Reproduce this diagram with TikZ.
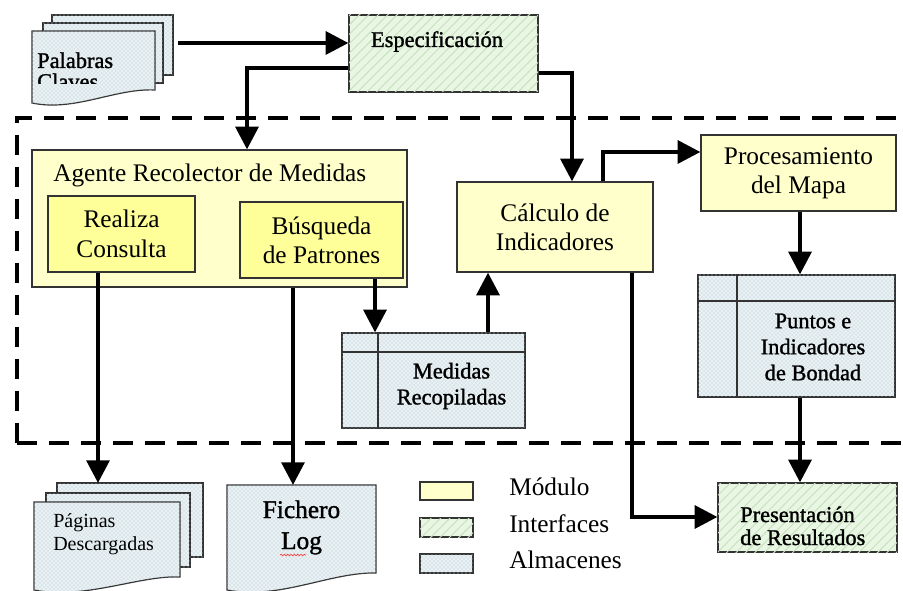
\documentclass[tikz,border=0pt]{standalone}
\usepackage{fontspec}
\setmainfont{Liberation Serif}
\newfontfamily\sbfont[FakeBold=1.3]{Liberation Serif}
\usetikzlibrary{arrows.meta,patterns,patterns.meta,decorations.pathmorphing,calc}
\definecolor{modpale}{HTML}{FFFFCC}
\definecolor{modstrong}{HTML}{FFFF99}
\definecolor{intfill}{HTML}{E9F6E3}
\definecolor{inthatch}{HTML}{C4E2BC}
\definecolor{storfill}{HTML}{E9F1F4}
\definecolor{stordots}{HTML}{B0C2CC}
\definecolor{edge}{HTML}{333333}
\tikzset{
 bx/.style 2 args={minimum width=#1*0.75pt,minimum height=#2*0.75pt,inner sep=0pt},
 box/.style={draw=edge,line width=0.9pt},
 modA/.style={box,fill=modpale},
 modB/.style={box,fill=modstrong},
 intf/.style={box,fill=intfill,postaction={pattern={Lines[angle=45,distance=5pt,line width=0.7pt]},pattern color=inthatch}},
 stor/.style={box,fill=storfill,postaction={pattern=crosshatch dots,pattern color=stordots}},
 big/.style={font=\fontsize{19}{22}\selectfont,align=center,inner sep=0pt},
 bld/.style={font=\sbfont\fontsize{16.8}{19.5}\selectfont,align=center,inner sep=0pt},
 bldbig/.style={font=\sbfont\fontsize{19}{22}\selectfont,align=center,inner sep=0pt},
 small/.style={font=\fontsize{15}{17}\selectfont,inner sep=0pt},
 arr/.style={line width=3pt,-{Triangle[length=17pt,width=17pt]}},
 frame/.style={line width=3pt,dash pattern=on 15pt off 9pt},
}
\begin{document}
\begin{tikzpicture}[x=0.75pt,y=-0.75pt]
\fill[white] (0,0) rectangle (903,591);
\useasboundingbox (0,0) rectangle (903,591);

% dashed frame
\draw[frame] (17,443) -- (17,118) -- (903,118);
\draw[frame] (17,443) -- (903,443);

% Palabras Claves (documents)
\path[stor] (52,15) rectangle (173,75);
\path[stor] (43,23) rectangle (163,83);
\path[stor] (32,31) -- (155,31) -- (155,90) .. controls (115,88) and (75,112) .. (32,103) -- cycle;
\begin{scope}
\clip (32,31) rectangle (155,84);
\node[bld,anchor=base west,text depth=0pt] (pal1) at (37,68) {Palabras};
\node[bld,anchor=base west] (pal2) at (37,89) {Claves};
\end{scope}
\coordinate (palR) at (178,43);

% Especificacion
\node[intf,bx={189}{77}] (esp) at (443.5,53.5) {};
\node[bld,anchor=base] (esptxt) at (437,47) {Especificación};

% Agente
\node[modA,bx={375}{137}] (agente) at (219.5,218.5) {};
\node[big,anchor=base west] (agtxt) at (53,182) {Agente Recolector de Medidas};
\node[modB,bx={147}{76},big] (real) at (121.5,234) {Realiza\\Consulta};
\node[modB,bx={163}{76},big] (busq) at (321.5,240) {Búsqueda\\de Patrones};

% Calculo, Procesamiento
\node[modA,bx={196}{90},big] (calc) at (555,227) {Cálculo de\\Indicadores};
\node[modA,bx={195}{76},big] (proc) at (798.5,173) {Procesamiento\\del Mapa};

% Puntos
\node[stor,bx={197}{122}] (puntos) at (796.5,336) {};
\draw[box] (puntos.north -| 737,0) -- (puntos.south -| 737,0);
\draw[box] (puntos.west |- 0,301) -- (puntos.east |- 0,301);
\node[bld] (puntostxt) at (813,347) {Puntos e\\Indicadores\\de Bondad};

% Medidas
\node[stor,bx={183}{95}] (med) at (433.5,380.5) {};
\draw[box] (med.north -| 378,0) -- (med.south -| 378,0);
\draw[box] (med.west |- 0,352) -- (med.east |- 0,352);
\node[bld] (medtxt) at (451.5,386) {Medidas\\Recopiladas};

% Presentacion
\node[intf,bx={179}{69}] (pres) at (807.5,517.5) {};
\node[bld,anchor=base west] (pres1) at (740,522) {Presentación};
\node[bld,anchor=base west] (pres2) at (740,545) {de Resultados};

% Paginas Descargadas
\path[stor] (57,483) rectangle (203,557);
\path[stor] (46,493) rectangle (190,567);
\path[stor] (34,502) -- (180,502) -- (180,577) .. controls (140,575) and (85,600) .. (34,590) -- cycle;
\node[small,anchor=base west] (pag1) at (53,527) {Páginas};
\node[small,anchor=base west] (pag2) at (53,550) {Descargadas};
\coordinate (pagtop) at (98,483);

% Fichero Log
\path[stor] (227,485) -- (376,485) -- (376,573) .. controls (330,572) and (280,600) .. (227,590) -- cycle;
\node[bldbig,anchor=base] (fich) at (301.5,518) {Fichero};
\node[bldbig,anchor=base] (logt) at (301.5,549) {Log};
\draw[red!75,line width=0.5pt,decorate,decoration={snake,amplitude=0.6pt,segment length=2.5pt}] (280,555) -- (306,555);
\coordinate (logtop) at (293,485);

% Legend
\node[modA,bx={53}{18}] (lgm) at (446.5,491) {};
\node[intf,bx={53}{19}] (lgi) at (446.5,527.5) {};
\node[stor,bx={53}{19}] (lgs) at (446.5,563.5) {};
\node[big,anchor=base west] (lgmt) at (509,495) {Módulo};
\node[big,anchor=base west] (lgit) at (509,532) {Interfaces};
\node[big,anchor=base west] (lgst) at (509,568) {Almacenes};

% connectors
\draw[arr] (palR) -- (palR -| esp.west);
\draw[arr] (esp.west |- 0,68) -| (agente.north -| 247,0);
\draw[arr] (esp.east |- 0,73) -| (calc.north -| 572,0);
\draw[arr] (calc.north -| 603,0) |- (proc.west |- 0,152);
\draw[arr] (proc.south -| 800,0) -- (puntos.north -| 800,0);
\draw[arr] (puntos.south -| 800,0) -- (pres.north -| 800,0);
\draw[arr] (calc.south -| 632,0) |- (pres.west |- 0,517);
\draw[arr] (busq.south -| 375,0) -- (med.north -| 375,0);
\draw[arr] (med.north -| 488,0) -- (calc.south -| 488,0);
\draw[arr] (real.south -| 98,0) -- (pagtop);
\draw[arr] (agente.south -| 293,0) -- (logtop);
\end{tikzpicture}
\end{document}
